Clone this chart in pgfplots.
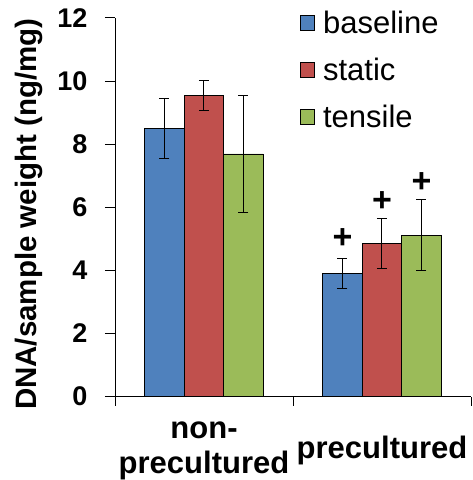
\documentclass[border=0pt]{standalone}
\usepackage{fontspec}
\setmainfont{Liberation Sans}
\usepackage{pgfplots}
\pgfplotsset{compat=1.18}
\usetikzlibrary{calc}
\definecolor{cblue}{HTML}{4F81BD}
\definecolor{cred}{HTML}{C0504D}
\definecolor{cgreen}{HTML}{9BBB59}
\begin{document}
\begin{tikzpicture}
\begin{axis}[name=ax, scale only axis, width=356pt, height=378.8pt,
  xmin=-0.5, xmax=1.5, ymin=0, ymax=12,
  axis x line*=bottom, axis y line*=left,
  axis line style={black, line width=0.8pt},
  ybar, bar width=39.5pt,
  ytick={0,2,...,12},
  tick align=outside,
  major tick length=10pt,
  tick style={black, line width=0.8pt},
  xtick={0,1},
  xticklabels={{non-\\precultured},{precultured}},
  x tick style={draw=none},
  extra x ticks={-0.5,0.5,1.5},
  extra x tick labels={},
  extra x tick style={x tick style={draw=black, line width=0.8pt}, major tick length=9pt},
  /pgf/number format/assume math mode=true,
  yticklabel style={font=\fontsize{27}{30}\selectfont\bfseries, xshift=-14pt},
  xticklabel style={font=\fontsize{31}{35}\selectfont\bfseries, align=center, anchor=center, yshift=-44pt},
  ylabel={DNA/sample weight (ng/mg)},
  every axis y label/.style={at={(rel axis cs:0,0.482)}, rotate=90, anchor=center, yshift=86pt,
    font=\fontsize{29.5}{32}\selectfont\bfseries},
  legend style={draw=none, fill=none, at={(rel axis cs:0.52,1.022)}, anchor=north west,
    font=\fontsize{31}{36}\selectfont, row sep=21pt, inner sep=0pt,
    nodes={inner sep=1pt},
    /tikz/every odd column/.append style={column sep=7pt}},
  legend cell align=left,
  legend image code/.code={\draw[#1, draw=black, line width=0.8pt] (0pt,-7.5pt) rectangle (14pt,7.5pt);},
  error bars/y dir=both, error bars/y explicit,
  error bars/error bar style={black, line width=1pt},
  error bars/error mark options={rotate=90, black, mark size=5pt, line width=1pt},
]
\addplot[fill=cblue, draw=black, line width=0.8pt, bar shift=-39.5pt]
  table[x=x, y=y, y error=e] {
x y e
0 8.50 0.95
1 3.90 0.47
};
\addlegendentry{baseline}
\addplot[fill=cred, draw=black, line width=0.8pt, bar shift=0pt]
  table[x=x, y=y, y error=e] {
x y e
0 9.55 0.48
1 4.85 0.78
};
\addlegendentry{static}
\addplot[fill=cgreen, draw=black, line width=0.8pt, bar shift=39.5pt]
  table[x=x, y=y, y error=e] {
x y e
0 7.69 1.85
1 5.12 1.12
};
\addlegendentry{tensile}
% significance markers
\addplot[draw=none, fill=none, bar shift=-39.5pt, forget plot, error bars/y dir=none,
  nodes near coords={+}, every node near coord/.append style={anchor=center, font=\fontsize{34}{34}\selectfont\bfseries}]
  coordinates {(1,5.00)};
\addplot[draw=none, fill=none, bar shift=0pt, forget plot, error bars/y dir=none,
  nodes near coords={+}, every node near coord/.append style={anchor=center, font=\fontsize{34}{34}\selectfont\bfseries}]
  coordinates {(1,6.18)};
\addplot[draw=none, fill=none, bar shift=39.5pt, forget plot, error bars/y dir=none,
  nodes near coords={+}, every node near coord/.append style={anchor=center, font=\fontsize{34}{34}\selectfont\bfseries}]
  coordinates {(1,6.79)};
\end{axis}
\pgfresetboundingbox
\path ($(ax.south west)+(-115pt,-83.3pt)$) rectangle ($(ax.north east)+(1pt,17.9pt)$);
\end{tikzpicture}
\end{document}
